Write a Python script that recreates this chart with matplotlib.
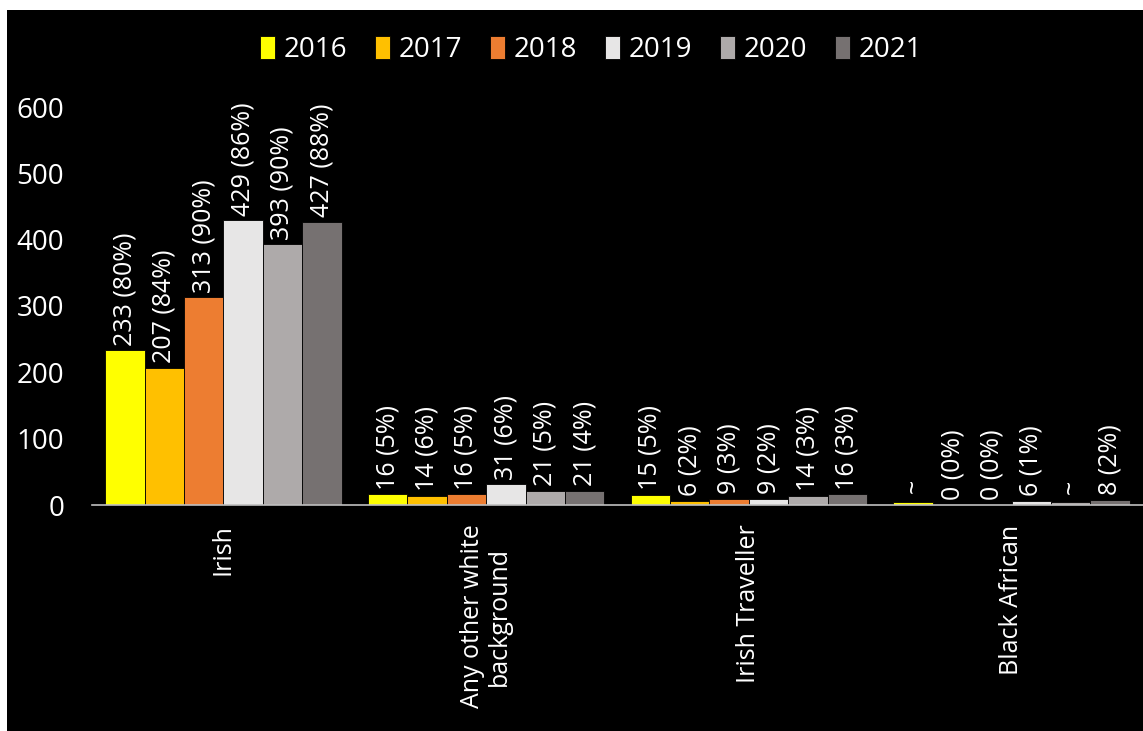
import numpy as np
import matplotlib.pyplot as plt
from matplotlib.patches import Rectangle

plt.rcParams['font.family'] = ['Open Sans', 'DejaVu Sans']

categories = ["Irish", "Any other white\nbackground", "Irish Traveller", "Black African"]
years = ["2016", "2017", "2018", "2019", "2020", "2021"]
colors = ["#FFFF00", "#FFC000", "#ED7D31", "#E7E6E6", "#AEAAAA", "#767171"]

# bar heights per year (one value per category)
values = {
    "2016": [233, 16, 15, 5],
    "2017": [207, 14, 6, 0],
    "2018": [313, 16, 9, 0],
    "2019": [429, 31, 9, 6],
    "2020": [393, 21, 14, 4],
    "2021": [427, 21, 16, 8],
}
labels = {
    "2016": ["233 (80%)", "16 (5%)", "15 (5%)", "~"],
    "2017": ["207 (84%)", "14 (6%)", "6 (2%)", "0 (0%)"],
    "2018": ["313 (90%)", "16 (5%)", "9 (3%)", "0 (0%)"],
    "2019": ["429 (86%)", "31 (6%)", "9 (2%)", "6 (1%)"],
    "2020": ["393 (90%)", "21 (5%)", "14 (3%)", "~"],
    "2021": ["427 (88%)", "21 (4%)", "16 (3%)", "8 (2%)"],
}

fig = plt.figure(figsize=(11.43, 7.31), dpi=100, facecolor="white")
fig.patches.append(Rectangle((7 / 1143, 0), 1, 1 - 10 / 731, transform=fig.transFigure,
                             facecolor="black", edgecolor="none", zorder=-10))
ax = fig.add_axes([92 / 1143, 1 - 505 / 731, 1 - 92 / 1143, (505 - 107) / 731])
ax.set_facecolor("black")

x = np.arange(len(categories))
w = 0.15
for i, yr in enumerate(years):
    pos = x + (i - 2.5) * w
    bars = ax.bar(pos, values[yr], w, color=colors[i], edgecolor="black", linewidth=0.6, label=yr)
    for b, lab in zip(bars, labels[yr]):
        off = 13 if lab == "~" else 7
        ax.text(b.get_x() + w / 2, b.get_height() + off, lab, rotation=90, ha="center", va="bottom",
                color="white", fontsize=18, clip_on=False)

ax.set_xlim(-0.5, 3.5)
ax.set_ylim(0, 600)
ax.set_yticks(range(0, 601, 100))
ax.tick_params(axis="y", length=0, pad=20, labelsize=20, labelcolor="white")
ax.set_xticks(x)
ax.set_xticklabels(categories, rotation=90, color="white", fontsize=18, ha="center", va="top",
                   linespacing=1.1)
ax.tick_params(axis="x", length=0, pad=14)
for s in ["top", "right", "left"]:
    ax.spines[s].set_visible(False)
ax.spines["bottom"].set_color("#BFBFBF")
ax.spines["bottom"].set_linewidth(1.2)

leg = fig.legend(loc="center", bbox_to_anchor=(0.517, 1 - 50 / 731), ncol=6, frameon=False,
                 fontsize=20, handlelength=0.55, handleheight=0.9, handletextpad=0.3,
                 columnspacing=1.0)
for t in leg.get_texts():
    t.set_color("white")

fig.savefig("out.png", dpi=100, facecolor=fig.get_facecolor())
